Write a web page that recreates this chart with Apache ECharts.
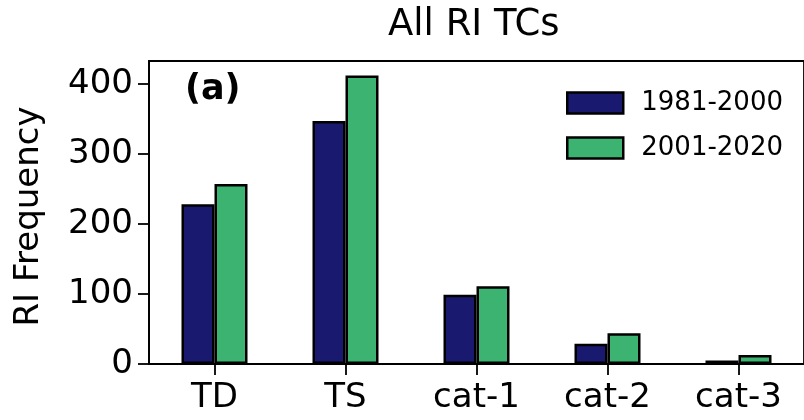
<!DOCTYPE html>
<html>
<head>
<meta charset="utf-8">
<script src="https://cdn.jsdelivr.net/npm/echarts@6/dist/echarts.min.js"></script>
<style>
  html, body { margin: 0; padding: 0; background: #fff; }
  #chart { width: 804px; height: 420px; }
</style>
</head>
<body>
<div id="chart"></div>
<script>
// Rapid-intensification counts by intensity category, two 20-year periods
const categories = ['TD', 'TS', 'cat-1', 'cat-2', 'cat-3'];
const period1Name = '1981-2000';
const period2Name = '2001-2020';
const period1Counts = [228, 347, 99, 29, 5];
const period2Counts = [257, 412, 111, 44, 13];
const yTicks = [0, 100, 200, 300, 400];

const FONT = 'DejaVu Sans';
const yMax = Math.max(...period1Counts, ...period2Counts) * 1.05;

const chart = echarts.init(document.getElementById('chart'), null, { renderer: 'canvas' });

const barStyle = (color) => ({
  color: color,
  borderColor: '#000',
  borderWidth: 2.5
});

chart.setOption({
  animation: false,
  backgroundColor: '#fff',
  grid: {
    left: 149,
    top: 61,
    width: 660,
    height: 303,
    show: true,
    borderColor: '#000',
    borderWidth: 1.8,
    backgroundColor: 'transparent'
  },
  graphic: [
    {
      type: 'text',
      left: 388,
      top: 7,
      style: {
        text: 'All RI TCs',
        font: '37px "DejaVu Sans"',
        fill: '#000'
      }
    },
    {
      type: 'text',
      left: 185,
      top: 72,
      style: {
        text: '(a)',
        font: 'bold 35px "DejaVu Sans"',
        fill: '#000'
      }
    }
  ],
  legend: {
    orient: 'vertical',
    left: 561,
    top: 85,
    itemWidth: 56,
    itemHeight: 21,
    itemGap: 19,
    icon: 'rect',
    data: [period1Name, period2Name],
    itemStyle: { borderColor: '#000', borderWidth: 2.5 },
    textStyle: {
      fontFamily: FONT,
      fontSize: 26,
      color: '#000',
      padding: [0, 0, 0, 13]
    }
  },
  xAxis: {
    type: 'category',
    data: categories,
    boundaryGap: true,
    axisLine: { show: true, lineStyle: { color: '#000', width: 1.8 } },
    axisTick: { show: true, alignWithLabel: true, length: 11, lineStyle: { color: '#000', width: 1.8 } },
    axisLabel: { fontFamily: FONT, fontSize: 34, color: '#000', margin: 17 },
    splitLine: { show: false }
  },
  yAxis: {
    type: 'value',
    min: 0,
    max: yMax,
    interval: 100,
    name: 'RI Frequency',
    nameLocation: 'middle',
    nameGap: 103,
    nameTextStyle: { fontFamily: FONT, fontSize: 34, color: '#000', padding: [0, 8, 0, 0] },
    axisLine: { show: true, lineStyle: { color: '#000', width: 1.8 } },
    axisTick: { show: true, length: 11, customValues: yTicks, lineStyle: { color: '#000', width: 1.8 } },
    axisLabel: { fontFamily: FONT, fontSize: 34, color: '#000', margin: 16, customValues: yTicks },
    splitLine: { show: false }
  },
  series: [
    {
      name: period1Name,
      type: 'bar',
      data: period1Counts,
      barWidth: 33,
      barGap: '0%',
      itemStyle: barStyle('#191970')
    },
    {
      name: period2Name,
      type: 'bar',
      data: period2Counts,
      barWidth: 33,
      barGap: '0%',
      itemStyle: barStyle('#3CB371')
    }
  ]
});
</script>
</body>
</html>
